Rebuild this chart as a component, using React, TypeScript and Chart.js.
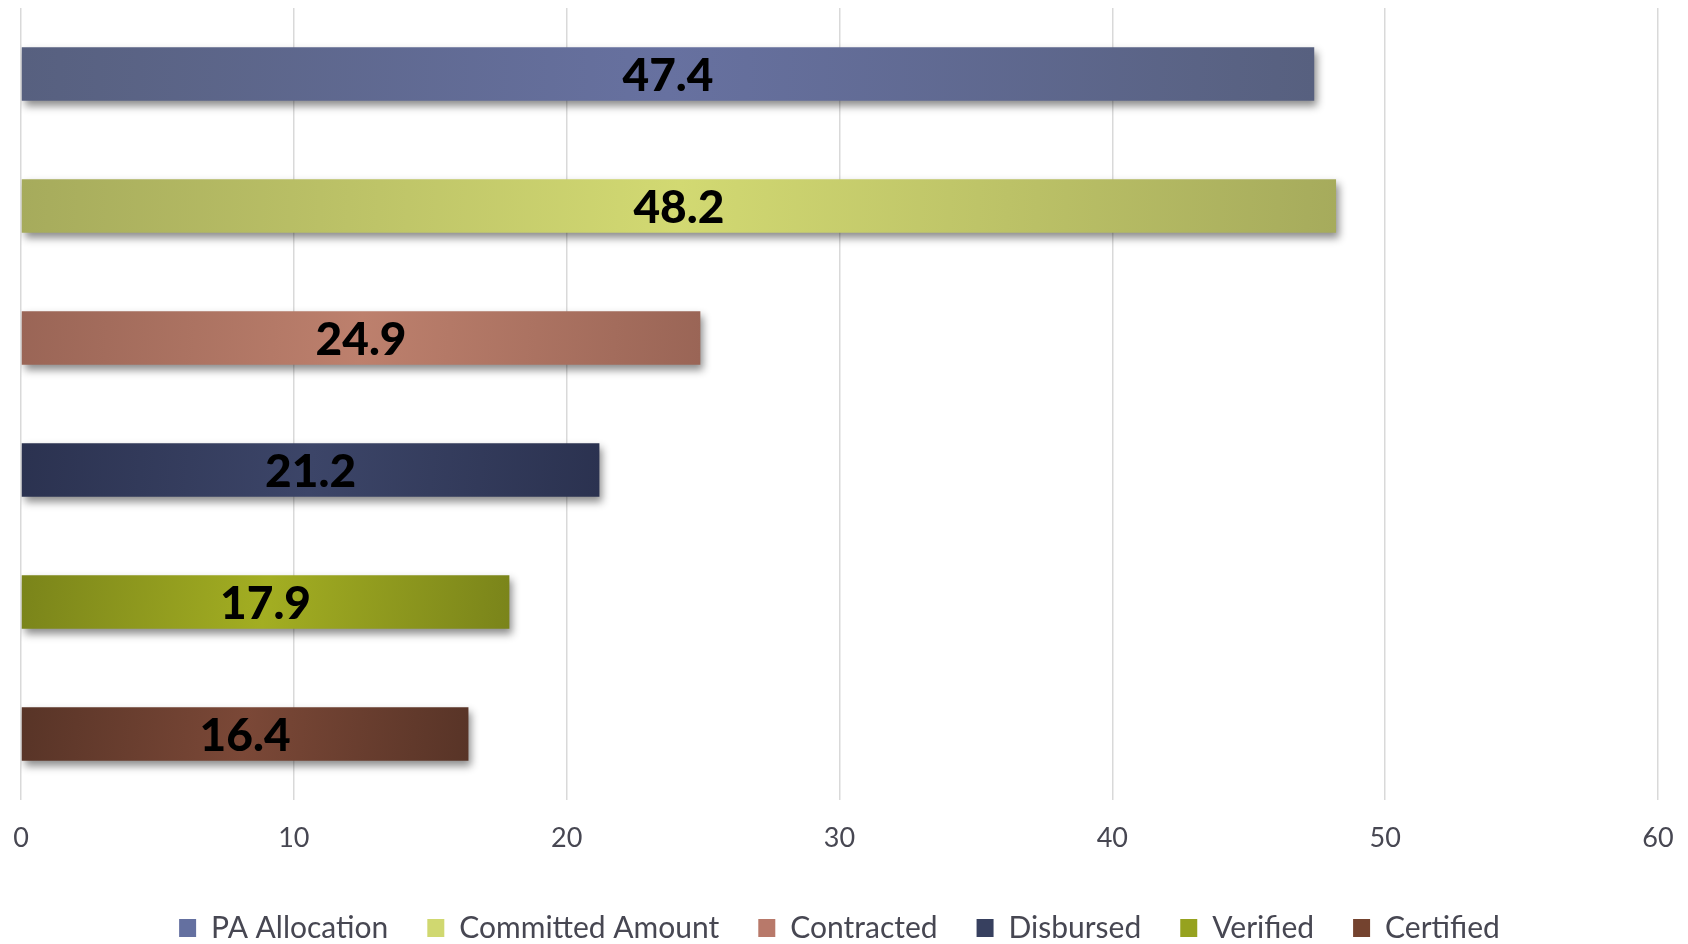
import React, { useEffect, useRef } from "react";
import { Chart, registerables } from "chart.js";

Chart.register(...registerables);

const CATEGORIES = ["PA Allocation", "Committed Amount", "Contracted", "Disbursed", "Verified", "Certified"];
const VALUES = [47.4, 48.2, 24.9, 21.2, 17.9, 16.4];
const X_MIN = 0;
const X_MAX = 60;
const X_STEP = 10;

const EDGE_COLORS = ["#57607f", "#a6ab5c", "#9a6556", "#2b3250", "#7a841a", "#583427"];
const MID_COLORS = ["#6771a0", "#d2d972", "#bd806d", "#3c4568", "#a3ae22", "#7b4837"];
const LEGEND_COLORS = ["#6470a0", "#d0d870", "#b8796a", "#37405f", "#96a21f", "#74432f"];

const shadowPlugin = {
  id: "barShadow",
  beforeDatasetsDraw(chart: any) {
    const ctx = chart.ctx;
    ctx.save();
    ctx.shadowColor = "rgba(0,0,0,0.45)";
    ctx.shadowBlur = 8;
    ctx.shadowOffsetX = 3;
    ctx.shadowOffsetY = 5;
  },
  afterDatasetsDraw(chart: any) {
    chart.ctx.restore();
  },
};

const labelPlugin = {
  id: "barLabels",
  afterDatasetsDraw(chart: any) {
    const ctx = chart.ctx;
    const meta = chart.getDatasetMeta(0);
    ctx.save();
    ctx.font = "900 46px Lato";
    ctx.fillStyle = "#000000";
    ctx.textAlign = "center";
    ctx.textBaseline = "middle";
    meta.data.forEach((bar: any, i: number) => {
      const v = chart.data.datasets[0].data[i];
      ctx.fillText(String(v), (bar.base + bar.x) / 2, bar.y + 2);
    });
    ctx.restore();
  },
};

const legendShiftPlugin = {
  id: "legendShift",
  afterLayout(chart: any) {
    const lg = chart.legend;
    if (lg) {
      lg.top += 9;
      lg.bottom += 9;
    }
  },
};

export default function App() {
  const canvasRef = useRef<HTMLCanvasElement | null>(null);

  useEffect(() => {
    document.body.style.margin = "0";
    const canvas = canvasRef.current;
    if (!canvas) return;
    const chart = new Chart(canvas, {
      type: "bar",
      data: {
        labels: CATEGORIES,
        datasets: [
          {
            label: "Values",
            data: VALUES,
            barPercentage: 0.405,
            categoryPercentage: 1,
            borderWidth: 0,
            backgroundColor: (c: any) => {
              const i = c.dataIndex;
              const chart = c.chart;
              const { chartArea, scales } = chart;
              if (!chartArea || !scales || !scales.x || !scales.y || c.type !== "data") return MID_COLORS[i] || "#888";
              const x0 = scales.x.getPixelForValue(0);
              const x1 = scales.x.getPixelForValue(VALUES[i]);
              const yc = scales.y.getPixelForValue(i);
              const g = chart.ctx.createLinearGradient(x0, yc - 27, x1, yc + 27);
              g.addColorStop(0, EDGE_COLORS[i]);
              g.addColorStop(0.5, MID_COLORS[i]);
              g.addColorStop(1, EDGE_COLORS[i]);
              return g;
            },
          },
        ],
      },
      options: {
        animation: false,
        responsive: false,
        indexAxis: "y",
        layout: { padding: { left: 21, right: 30, top: 8, bottom: 0 } },
        scales: {
          x: {
            min: X_MIN,
            max: X_MAX,
            ticks: {
              stepSize: X_STEP,
              color: "#474752",
              font: { family: "Lato", size: 27 },
              padding: 22,
            },
            grid: { color: "#d9d9d9", lineWidth: 1.5, drawTicks: false },
            border: { display: false },
            afterFit: (s: any) => {
              s.height = 65;
              s.paddingLeft = 0;
              s.paddingRight = 0;
            },
          },
          y: {
            display: false,
          },
        },
        plugins: {
          tooltip: { enabled: false },
          legend: {
            position: "bottom",
            labels: {
              boxWidth: 17,
              boxHeight: 18,
              padding: 39,
              color: "#474752",
              font: { family: "Lato", size: 30 },
              generateLabels: () =>
                CATEGORIES.map((c, i) => ({
                  text: c,
                  fillStyle: LEGEND_COLORS[i],
                  strokeStyle: LEGEND_COLORS[i],
                  lineWidth: 0,
                  hidden: false,
                  index: i,
                  fontColor: "#474752",
                })),
            },
          },
        },
      } as any,
      plugins: [shadowPlugin, labelPlugin, legendShiftPlugin],
    });
    return () => chart.destroy();
  }, []);

  return (
    <div style={{ width: 1688, height: 944, position: "relative", background: "#ffffff" }}>
      <canvas ref={canvasRef} width={1688} height={944} style={{ display: "block" }} />
    </div>
  );
}
